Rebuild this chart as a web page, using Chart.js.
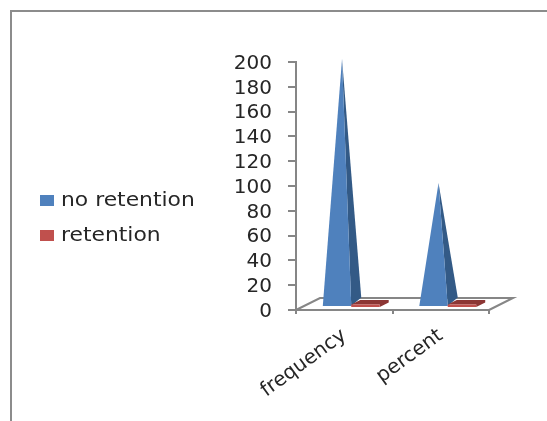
<!DOCTYPE html>
<html>
<head>
<meta charset="utf-8">
<title>Retention</title>
<script src="https://cdn.jsdelivr.net/npm/chart.js@4"></script>
<style>
    html, body { margin: 0; padding: 0; background: #fff; overflow: hidden; }
    #wrap { position: relative; width: 547px; height: 421px; }
    #frame {
        position: absolute; left: 10px; top: 10px; right: 0; bottom: 0;
        border-left: 2px solid #8c8c8c; border-top: 2px solid #8c8c8c;
    }
    canvas { position: absolute; left: 0; top: 0; }
</style>
</head>
<body>
<div id="wrap">
    <div id="frame"></div>
    <canvas id="chart" width="547" height="421"></canvas>
</div>
<script>
const categories = ['frequency', 'percent'];
const noRetention = [200, 100];
const retention = [0, 0];
const yTicks = [0, 20, 40, 60, 80, 100, 120, 140, 160, 180, 200];

const AXIS_COLOR = '#868686';
const TEXT_COLOR = '#262626';
const FONT = 'DejaVu Sans';
const TICK_SIZE = 20;
const LEGEND_SIZE = 19;
const LEGEND_STRETCH = 1.15; // the legend text runs wide

// ------------------ FAKE 3D ------------------
function polygon(ctx, color, points) {
    ctx.fillStyle = color;
    ctx.beginPath();
    points.forEach(([x, y], i) => i ? ctx.lineTo(x, y) : ctx.moveTo(x, y));
    ctx.closePath();
    ctx.fill();
}

function drawFloor(ctx, area) {
    const dx = 24, dy = -12;
    ctx.save();
    ctx.strokeStyle = AXIS_COLOR;
    ctx.lineWidth = 2;
    ctx.beginPath();
    ctx.moveTo(area.left, area.bottom);
    ctx.lineTo(area.left + dx, area.bottom + dy);
    ctx.lineTo(area.right + dx, area.bottom + dy);
    ctx.lineTo(area.right, area.bottom);
    ctx.stroke();
    ctx.restore();
}

function drawPyramid(ctx, bar, color, sideColor) {
    const left = bar.x - bar.width / 2 + 7;
    const right = left + bar.width;
    const front = bar.base - 3;
    const apex = [left + bar.width / 2 + 5, bar.y - 3];
    polygon(ctx, sideColor, [[right, front], [right + 10, front - 8.5], apex]);
    polygon(ctx, color, [[left, front], [right, front], apex]);
}

// a zero value still shows as a thin slab lying on the floor
function drawSlab(ctx, bar, color, topColor) {
    const left = bar.x - bar.width / 2 + 7;
    const right = left + bar.width;
    const front = bar.base - 3;
    const top = front - 2.5;
    polygon(ctx, topColor, [[left, top], [left + 9, top - 4.5], [right + 9, top - 4.5], [right + 9, top - 2], [right, front], [right, top]]);
    polygon(ctx, color, [[left, top], [right, top], [right, front], [left, front]]);
}

const pyramidPlugin = {
    id: 'pyramids',
    beforeDatasetsDraw(chart) {
        drawFloor(chart.ctx, chart.chartArea);
    },
    beforeDatasetDraw() {
        return false; // flat bars are replaced below
    },
    afterDatasetsDraw(chart) {
        const ctx = chart.ctx;
        chart.getDatasetMeta(0).data.forEach(bar => drawPyramid(ctx, bar, chart.data.datasets[0].backgroundColor, '#335a86'));
        chart.getDatasetMeta(1).data.forEach(bar => drawSlab(ctx, bar, chart.data.datasets[1].backgroundColor, '#8c3634'));
    }
};

// ------------------ LEGEND ------------------
const legendPlugin = {
    id: 'sideLegend',
    afterDraw(chart) {
        const ctx = chart.ctx;
        chart.data.datasets.forEach((ds, i) => {
            const y = 200 + i * 35;
            ctx.save();
            ctx.fillStyle = ds.backgroundColor;
            ctx.fillRect(40, y - 5, 14, 11);
            ctx.font = `${LEGEND_SIZE}px "${FONT}"`;
            ctx.textBaseline = 'middle';
            ctx.fillStyle = TEXT_COLOR;
            ctx.translate(61, y + 1);
            ctx.scale(LEGEND_STRETCH, 1);
            ctx.fillText(ds.label, 0, 0);
            ctx.restore();
        });
    }
};

new Chart(document.getElementById('chart'), {
    type: 'bar',
    data: {
        labels: categories,
        datasets: [
            { label: 'no retention', data: noRetention, backgroundColor: '#4f81bd' },
            { label: 'retention', data: retention, backgroundColor: '#c0504d' }
        ]
    },
    plugins: [pyramidPlugin, legendPlugin],
    options: {
        responsive: false,
        animation: false,
        layout: { padding: { top: 62, right: 58, left: 0, bottom: 0 } },
        datasets: { bar: { categoryPercentage: 0.59, barPercentage: 1 } },
        plugins: { legend: { display: false }, tooltip: { enabled: false } },
        scales: {
            y: {
                min: 0,
                max: 200,
                afterFit: scale => { scale.width = 296; },
                afterBuildTicks: scale => { scale.ticks = yTicks.map(value => ({ value })); },
                border: { color: AXIS_COLOR, width: 2 },
                grid: { drawOnChartArea: false, color: AXIS_COLOR, lineWidth: 2, tickLength: 8 },
                ticks: { autoSkip: false, color: TEXT_COLOR, padding: 16, labelOffset: 1.5, font: { family: FONT, size: TICK_SIZE } }
            },
            x: {
                afterFit: scale => { scale.height = 111; },
                border: { color: AXIS_COLOR, width: 2 },
                grid: { drawOnChartArea: false, color: AXIS_COLOR, lineWidth: 2, tickLength: 4 },
                ticks: { color: TEXT_COLOR, padding: 10, minRotation: 36, maxRotation: 36, font: { family: FONT, size: TICK_SIZE } }
            }
        }
    }
});
</script>
</body>
</html>
